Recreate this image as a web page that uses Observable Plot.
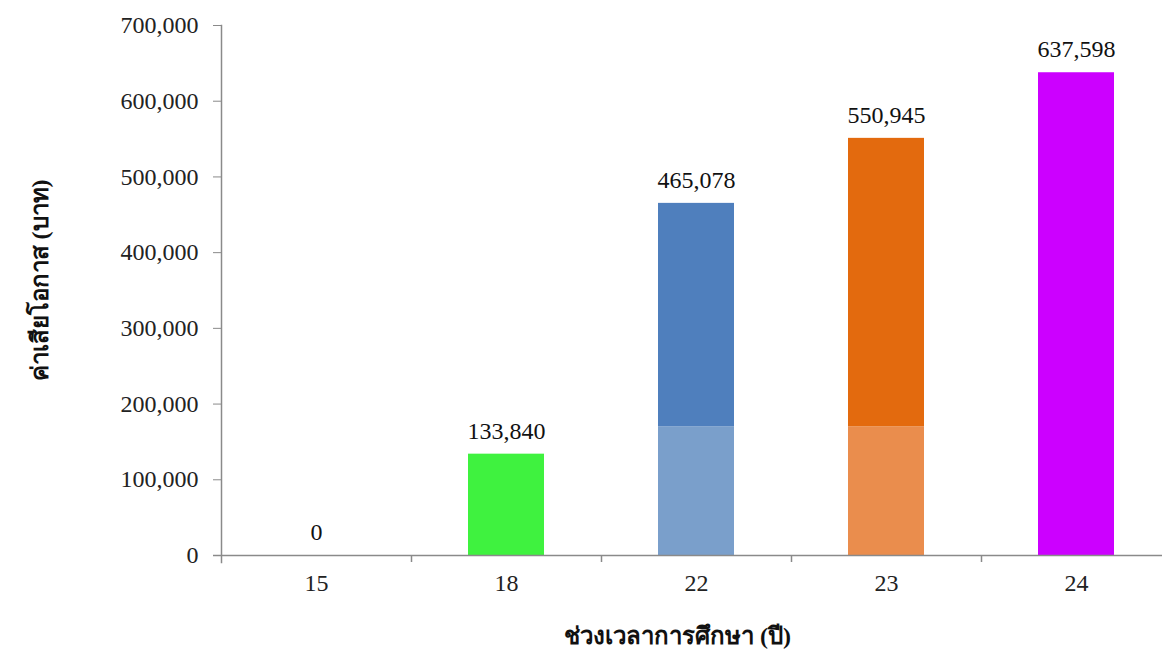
<!DOCTYPE html>
<html>
<head>
<meta charset="utf-8">
<script src="https://cdn.jsdelivr.net/npm/d3@7"></script>
<script src="https://cdn.jsdelivr.net/npm/@observablehq/plot@0.6"></script>
<style>
  html, body { margin: 0; padding: 0; background: #fff; }
</style>
</head>
<body>
<div id="chart"></div>
<script>
const categories = ["15", "18", "22", "23", "24"];
const totals = [0, 133840, 465078, 550945, 637598];
const lowerPart = [0, 0, 170000, 170000, 0];
const upperColors = ["#888888", "#3FF23F", "#4F7FBD", "#E36A0E", "#CC00FF"];
const lowerColors = ["#888888", "#3FF23F", "#7A9FCB", "#EA8D4D", "#CC00FF"];
const yTicks = [0, 100000, 200000, 300000, 400000, 500000, 600000, 700000];
const xLabel = "ช่วงเวลาการศึกษา (ปี)";
const yLabel = "ค่าเสียโอกาส (บาท)";

const rows = categories.map((c, i) => ({
  cat: c,
  total: totals[i],
  lower: lowerPart[i],
  upperColor: upperColors[i],
  lowerColor: lowerColors[i]
}));

const axisColor = "#8a8a8a";
const fmt = d3.format(",");

const chart = Plot.plot({
  width: 1162,
  height: 652,
  marginLeft: 221,
  marginRight: -9,
  marginTop: 25,
  marginBottom: 97,
  style: { fontFamily: "'Liberation Serif', 'Times New Roman', serif", fontSize: "24px", color: "#222", background: "#fff" },
  x: { domain: categories, paddingInner: 0.6, paddingOuter: 0.3 },
  y: { domain: [0, 700000] },
  color: { type: "identity" },
  marks: [
    Plot.barY(rows.filter(d => d.lower > 0), { x: "cat", y1: 0, y2: "lower", fill: "lowerColor" }),
    Plot.barY(rows.filter(d => d.total > 0), { x: "cat", y1: "lower", y2: "total", fill: "upperColor" }),
    Plot.ruleY([0], { stroke: axisColor, strokeWidth: 1.5, insetLeft: -8 }),
    Plot.frame({ anchor: "left", stroke: axisColor, strokeWidth: 1.5, insetBottom: -7 }),
    Plot.ruleX(categories.slice(0, -1), { x: d => d, y1: 0, y2: 0, dx: 95, insetBottom: -7, stroke: axisColor, strokeWidth: 1.5 }),
    Plot.axisY(yTicks, { tickSize: 8, tickPadding: 15, tickFormat: fmt, label: null, stroke: axisColor, fill: "#222", fontSize: 24 }),
    Plot.axisX({ tickSize: 0, tickPadding: 18, label: null, fill: "#222", fontSize: 24 }),
    Plot.text(rows, { x: "cat", y: "total", text: d => fmt(d.total), dy: -23, fill: "#111", fontSize: 24 }),
    Plot.text([xLabel], { frameAnchor: "bottom", dy: 88, dx: -19, fontWeight: "bold", fontSize: 24, fill: "#111" }),
    Plot.text([yLabel], { frameAnchor: "left", textAnchor: "middle", rotate: -90, dx: -181, dy: -10, fontWeight: "bold", fontSize: 24, fill: "#111" })
  ]
});

document.getElementById("chart").appendChild(chart);
</script>
</body>
</html>
